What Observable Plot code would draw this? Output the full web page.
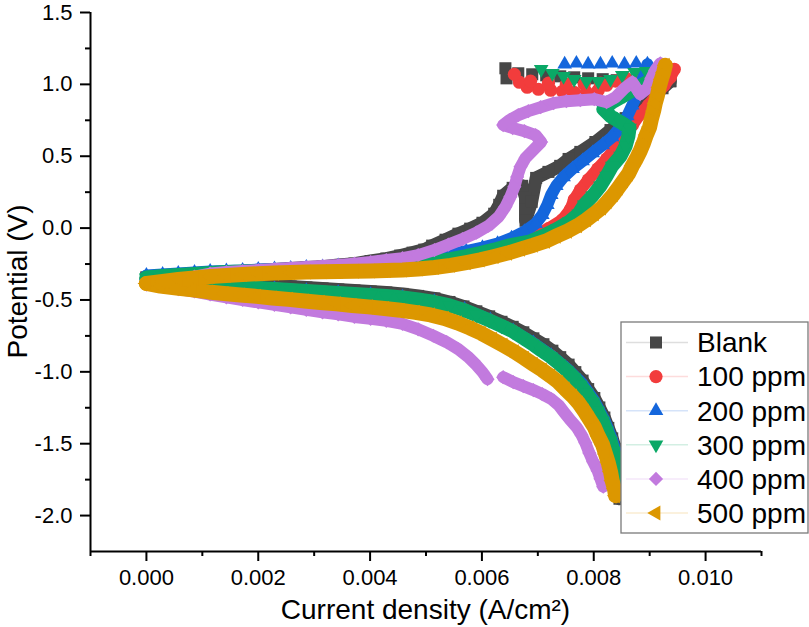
<!DOCTYPE html>
<html><head><meta charset="utf-8">
<script src="https://cdn.jsdelivr.net/npm/d3@7"></script>
<script src="https://cdn.jsdelivr.net/npm/@observablehq/plot@0.6"></script>
<style>
html,body{margin:0;padding:0;background:#fff;}
#chart{position:relative;width:809px;height:627px;}
</style></head><body><div id="chart"></div>
<script>
// ---- data: [current density (A/cm^2), potential (V)] ----
const seriesNames = ["Blank", "100 ppm", "200 ppm", "300 ppm", "400 ppm", "500 ppm"];

const blankCathodic = [[0.00000,-0.344],[0.00029,-0.351],[0.00057,-0.358],[0.00086,-0.365],[0.00114,-0.372],[0.00143,-0.378],[0.00172,-0.385],[0.00200,-0.392],[0.00229,-0.399],[0.00258,-0.406],[0.00286,-0.413],[0.00315,-0.420],[0.00343,-0.427],[0.00372,-0.434],[0.00401,-0.441],[0.00429,-0.448],[0.00458,-0.458],[0.00486,-0.472],[0.00515,-0.489],[0.00542,-0.514],[0.00567,-0.545],[0.00590,-0.579],[0.00613,-0.614],[0.00635,-0.652],[0.00655,-0.687],[0.00674,-0.725],[0.00692,-0.767],[0.00710,-0.808],[0.00726,-0.853],[0.00740,-0.898],[0.00755,-0.950],[0.00767,-1.002],[0.00780,-1.061],[0.00790,-1.120],[0.00801,-1.182],[0.00810,-1.248],[0.00819,-1.318],[0.00826,-1.390],[0.00833,-1.463],[0.00839,-1.536],[0.00844,-1.612],[0.00848,-1.688],[0.00849,-1.765],[0.00848,-1.834],[0.00846,-1.883]];
const blankAnodic = [[0.00000,-0.344],[0.00029,-0.337],[0.00057,-0.330],[0.00086,-0.323],[0.00114,-0.316],[0.00143,-0.309],[0.00172,-0.302],[0.00200,-0.295],[0.00229,-0.288],[0.00258,-0.281],[0.00286,-0.274],[0.00315,-0.268],[0.00343,-0.257],[0.00372,-0.247],[0.00401,-0.229],[0.00429,-0.212],[0.00454,-0.191],[0.00476,-0.171],[0.00497,-0.150],[0.00511,-0.122],[0.00535,-0.081],[0.00558,-0.039],[0.00579,-0.004],[0.00601,0.037],[0.00622,0.100],[0.00631,0.162],[0.00638,0.225],[0.00655,0.280],[0.00672,0.294],[0.00678,0.211],[0.00678,0.128],[0.00678,0.051],[0.00689,0.183],[0.00697,0.349],[0.00719,0.391],[0.00740,0.433],[0.00755,0.481],[0.00776,0.530],[0.00803,0.599],[0.00830,0.682],[0.00857,0.765],[0.00883,0.848],[0.00905,0.918],[0.00923,0.973],[0.00937,1.022]];
const blankTop = [[0.00937,1.022],[0.00916,1.015],[0.00891,1.015],[0.00866,1.022],[0.00841,1.029],[0.00816,1.036],[0.00790,1.042],[0.00765,1.049],[0.00740,1.056],[0.00715,1.063],[0.00690,1.070],[0.00665,1.077],[0.00644,1.042],[0.00642,1.112]];

const ppm100Cathodic = [[0.00000,-0.351],[0.00057,-0.375],[0.00114,-0.392],[0.00172,-0.406],[0.00229,-0.420],[0.00286,-0.434],[0.00343,-0.448],[0.00401,-0.462],[0.00458,-0.479],[0.00515,-0.510],[0.00567,-0.565],[0.00613,-0.638],[0.00655,-0.714],[0.00690,-0.800],[0.00723,-0.888],[0.00751,-0.981],[0.00778,-1.085],[0.00799,-1.203],[0.00817,-1.335],[0.00832,-1.474],[0.00843,-1.619],[0.00849,-1.772],[0.00851,-1.855]];
const ppm100Anodic = [[0.00000,-0.351],[0.00057,-0.333],[0.00114,-0.320],[0.00172,-0.309],[0.00229,-0.299],[0.00286,-0.288],[0.00343,-0.278],[0.00401,-0.268],[0.00458,-0.254],[0.00515,-0.233],[0.00572,-0.202],[0.00615,-0.163],[0.00651,-0.122],[0.00687,-0.067],[0.00719,-0.004],[0.00744,0.058],[0.00758,0.128],[0.00765,0.197],[0.00776,0.266],[0.00790,0.335],[0.00807,0.412],[0.00823,0.481],[0.00837,0.550],[0.00853,0.634],[0.00869,0.717],[0.00883,0.793],[0.00898,0.855],[0.00912,0.925],[0.00926,0.994],[0.00937,1.049],[0.00944,1.105]];
const ppm100Top = [[0.00923,1.084],[0.00901,1.070],[0.00880,1.056],[0.00858,1.042],[0.00839,1.022],[0.00823,0.994],[0.00808,0.959],[0.00787,0.945],[0.00765,0.945],[0.00744,0.952],[0.00723,0.959],[0.00701,0.966],[0.00681,0.980],[0.00667,1.015],[0.00658,1.070],[0.00687,1.022],[0.00719,1.008],[0.00751,1.001],[0.00783,1.001],[0.00812,1.008]];

const ppm200Cathodic = [[0.00000,-0.344],[0.00057,-0.377],[0.00114,-0.393],[0.00172,-0.407],[0.00229,-0.421],[0.00286,-0.435],[0.00343,-0.449],[0.00401,-0.463],[0.00458,-0.480],[0.00515,-0.512],[0.00569,-0.566],[0.00615,-0.640],[0.00656,-0.716],[0.00692,-0.800],[0.00724,-0.888],[0.00753,-0.981],[0.00780,-1.085],[0.00801,-1.203],[0.00819,-1.335],[0.00833,-1.474],[0.00844,-1.619],[0.00849,-1.772],[0.00851,-1.848]];
const ppm200Anodic = [[0.00000,-0.330],[0.00029,-0.323],[0.00057,-0.316],[0.00086,-0.309],[0.00114,-0.302],[0.00143,-0.299],[0.00172,-0.295],[0.00200,-0.288],[0.00229,-0.285],[0.00258,-0.281],[0.00286,-0.274],[0.00315,-0.271],[0.00343,-0.264],[0.00372,-0.261],[0.00401,-0.254],[0.00429,-0.247],[0.00458,-0.233],[0.00486,-0.216],[0.00515,-0.198],[0.00544,-0.181],[0.00572,-0.160],[0.00601,-0.136],[0.00628,-0.108],[0.00653,-0.070],[0.00676,-0.025],[0.00696,0.031],[0.00708,0.092],[0.00717,0.162],[0.00724,0.232],[0.00733,0.294],[0.00746,0.356],[0.00762,0.412],[0.00780,0.467],[0.00798,0.523],[0.00816,0.578],[0.00833,0.634],[0.00848,0.703],[0.00860,0.779],[0.00869,0.855],[0.00878,0.932],[0.00885,1.008],[0.00891,1.077],[0.00896,1.140]];
const ppm200Top = [[0.00876,1.146],[0.00855,1.140],[0.00833,1.146],[0.00812,1.140],[0.00790,1.140],[0.00769,1.146],[0.00748,1.140]];

const ppm300Cathodic = [[0.00000,-0.351],[0.00029,-0.367],[0.00057,-0.378],[0.00086,-0.389],[0.00114,-0.396],[0.00143,-0.403],[0.00172,-0.410],[0.00200,-0.417],[0.00229,-0.424],[0.00258,-0.430],[0.00286,-0.437],[0.00315,-0.444],[0.00343,-0.451],[0.00372,-0.458],[0.00401,-0.465],[0.00429,-0.472],[0.00458,-0.482],[0.00486,-0.496],[0.00515,-0.514],[0.00542,-0.538],[0.00567,-0.569],[0.00590,-0.604],[0.00613,-0.642],[0.00635,-0.680],[0.00655,-0.718],[0.00672,-0.760],[0.00690,-0.805],[0.00706,-0.850],[0.00723,-0.895],[0.00737,-0.940],[0.00751,-0.988],[0.00764,-1.037],[0.00776,-1.092],[0.00787,-1.148],[0.00798,-1.210],[0.00807,-1.273],[0.00816,-1.342],[0.00823,-1.411],[0.00830,-1.481],[0.00835,-1.550],[0.00841,-1.626],[0.00844,-1.703],[0.00848,-1.779],[0.00849,-1.848]];
const ppm300Anodic = [[0.00000,-0.344],[0.00029,-0.333],[0.00057,-0.327],[0.00086,-0.320],[0.00114,-0.313],[0.00143,-0.306],[0.00172,-0.302],[0.00200,-0.299],[0.00229,-0.295],[0.00258,-0.292],[0.00286,-0.288],[0.00315,-0.285],[0.00343,-0.281],[0.00372,-0.278],[0.00401,-0.274],[0.00429,-0.268],[0.00458,-0.261],[0.00486,-0.247],[0.00515,-0.233],[0.00544,-0.216],[0.00572,-0.195],[0.00597,-0.174],[0.00622,-0.150],[0.00647,-0.122],[0.00685,-0.094],[0.00710,-0.053],[0.00735,-0.004],[0.00756,0.044],[0.00773,0.100],[0.00783,0.162],[0.00798,0.225],[0.00812,0.294],[0.00823,0.363],[0.00833,0.433],[0.00848,0.502],[0.00857,0.571],[0.00862,0.640],[0.00864,0.696],[0.00848,0.737],[0.00830,0.779],[0.00817,0.828],[0.00833,0.876],[0.00855,0.925],[0.00876,0.973],[0.00898,1.022],[0.00916,1.070]];
const ppm300Top = [[0.00894,1.091],[0.00873,1.084],[0.00851,1.063],[0.00830,1.036],[0.00808,1.022],[0.00787,1.022],[0.00765,1.036],[0.00746,1.056],[0.00726,1.077],[0.00706,1.105]];

const ppm400CathodicA = [[0.00000,-0.392],[0.00029,-0.406],[0.00057,-0.424],[0.00086,-0.441],[0.00114,-0.462],[0.00143,-0.482],[0.00172,-0.500],[0.00200,-0.517],[0.00229,-0.534],[0.00258,-0.552],[0.00286,-0.569],[0.00315,-0.586],[0.00343,-0.600],[0.00372,-0.618],[0.00401,-0.631],[0.00429,-0.645],[0.00458,-0.666],[0.00486,-0.704],[0.00513,-0.749],[0.00537,-0.794],[0.00558,-0.843],[0.00576,-0.898],[0.00590,-0.953],[0.00601,-1.002],[0.00610,-1.051]];
const ppm400CathodicB = [[0.00638,-1.037],[0.00656,-1.072],[0.00674,-1.099],[0.00692,-1.127],[0.00708,-1.155],[0.00724,-1.189],[0.00737,-1.231],[0.00748,-1.286],[0.00758,-1.335],[0.00769,-1.383],[0.00778,-1.439],[0.00785,-1.494],[0.00792,-1.564],[0.00799,-1.626],[0.00807,-1.688],[0.00812,-1.744],[0.00817,-1.799]];
const ppm400Anodic = [[0.00000,-0.392],[0.00029,-0.378],[0.00057,-0.358],[0.00086,-0.337],[0.00114,-0.316],[0.00143,-0.306],[0.00172,-0.299],[0.00200,-0.292],[0.00229,-0.285],[0.00258,-0.278],[0.00286,-0.271],[0.00315,-0.264],[0.00343,-0.257],[0.00372,-0.247],[0.00401,-0.236],[0.00429,-0.222],[0.00458,-0.209],[0.00486,-0.188],[0.00515,-0.153],[0.00540,-0.115],[0.00565,-0.077],[0.00590,-0.032],[0.00612,0.017],[0.00630,0.079],[0.00642,0.148],[0.00651,0.218],[0.00658,0.287],[0.00663,0.356],[0.00669,0.426],[0.00678,0.488],[0.00692,0.543],[0.00706,0.599],[0.00696,0.647],[0.00676,0.675],[0.00655,0.696],[0.00638,0.717],[0.00649,0.751],[0.00665,0.786],[0.00683,0.814],[0.00705,0.841],[0.00728,0.869],[0.00751,0.883],[0.00776,0.890],[0.00801,0.897],[0.00823,0.876],[0.00839,0.911],[0.00855,0.973],[0.00869,1.015],[0.00883,0.932],[0.00896,0.973],[0.00903,1.042],[0.00910,1.098],[0.00919,1.146]];

const ppm500Cathodic = [[0.00000,-0.385],[0.00025,-0.403],[0.00054,-0.417],[0.00082,-0.430],[0.00111,-0.444],[0.00139,-0.455],[0.00168,-0.465],[0.00197,-0.475],[0.00225,-0.486],[0.00254,-0.496],[0.00283,-0.507],[0.00311,-0.517],[0.00340,-0.527],[0.00368,-0.538],[0.00397,-0.548],[0.00426,-0.559],[0.00454,-0.572],[0.00481,-0.586],[0.00508,-0.604],[0.00533,-0.628],[0.00556,-0.659],[0.00578,-0.694],[0.00599,-0.732],[0.00619,-0.774],[0.00638,-0.815],[0.00658,-0.860],[0.00676,-0.905],[0.00692,-0.947],[0.00708,-0.988],[0.00723,-1.030],[0.00737,-1.072],[0.00749,-1.120],[0.00762,-1.169],[0.00773,-1.217],[0.00783,-1.273],[0.00792,-1.328],[0.00801,-1.384],[0.00808,-1.446],[0.00816,-1.508],[0.00821,-1.571],[0.00826,-1.633],[0.00830,-1.695],[0.00833,-1.758],[0.00837,-1.813],[0.00839,-1.862]];
const ppm500Anodic = [[0.00000,-0.385],[0.00029,-0.372],[0.00057,-0.358],[0.00086,-0.347],[0.00114,-0.337],[0.00143,-0.330],[0.00172,-0.323],[0.00200,-0.317],[0.00229,-0.313],[0.00258,-0.309],[0.00286,-0.306],[0.00315,-0.304],[0.00343,-0.302],[0.00372,-0.300],[0.00401,-0.298],[0.00429,-0.295],[0.00458,-0.291],[0.00486,-0.284],[0.00515,-0.274],[0.00544,-0.259],[0.00572,-0.240],[0.00597,-0.221],[0.00622,-0.198],[0.00646,-0.174],[0.00669,-0.146],[0.00692,-0.119],[0.00714,-0.091],[0.00733,-0.056],[0.00753,-0.021],[0.00771,0.017],[0.00787,0.058],[0.00801,0.100],[0.00814,0.141],[0.00824,0.183],[0.00835,0.232],[0.00844,0.280],[0.00853,0.329],[0.00862,0.377],[0.00869,0.433],[0.00876,0.481],[0.00883,0.536],[0.00889,0.592],[0.00894,0.647],[0.00900,0.703],[0.00903,0.758],[0.00907,0.814],[0.00910,0.869],[0.00914,0.925],[0.00917,0.980],[0.00921,1.036],[0.00925,1.084],[0.00928,1.133]];

// ---- axes ----
const xDomain = [-0.001, 0.011];
const yDomain = [-2.25, 1.5];
const xTicks = [0, 0.002, 0.004, 0.006, 0.008, 0.010];
const xMinorTicks = [-0.001, 0.001, 0.003, 0.005, 0.007, 0.009, 0.011];
const yTicks = [-2.0, -1.5, -1.0, -0.5, 0.0, 0.5, 1.0, 1.5];
const yMinorTicks = [-1.75, -1.25, -0.75, -0.25, 0.25, 0.75, 1.25];
const xLabel = "Current density (A/cm²)";
const yLabel = "Potential (V)";

// ---- styles ----
const styles = [
  {color: "#474747", symbol: "square",    d3sym: d3.symbolSquare,    r: 6.8, rotate: 0,   lw: 13},
  {color: "#f23c3c", symbol: "circle",    d3sym: d3.symbolCircle,    r: 6.6, rotate: 0,   lw: 12},
  {color: "#1466dc", symbol: "triangle2", d3sym: d3.symbolTriangle2, r: 7.0, rotate: 0,   lw: 12},
  {color: "#0aa866", symbol: "triangle2", d3sym: d3.symbolTriangle2, r: 7.0, rotate: 180, lw: 14},
  {color: "#c27ade", symbol: "diamond2",  d3sym: d3.symbolDiamond2,  r: 6.4, rotate: 0,   lw: 12},
  {color: "#dc9700", symbol: "triangle2", d3sym: d3.symbolTriangle2, r: 7.2, rotate: -90, lw: 15}
];

const branchList = [
  {s: 0, pts: blankCathodic, line: true}, {s: 0, pts: blankAnodic, line: true}, {s: 0, pts: blankTop, line: false},
  {s: 1, pts: ppm100Cathodic, line: true}, {s: 1, pts: ppm100Anodic, line: true}, {s: 1, pts: ppm100Top, line: false},
  {s: 2, pts: ppm200Cathodic, line: true}, {s: 2, pts: ppm200Anodic, line: true}, {s: 2, pts: ppm200Top, line: false},
  {s: 3, pts: ppm300Cathodic, line: true}, {s: 3, pts: ppm300Anodic, line: true}, {s: 3, pts: ppm300Top, line: false},
  {s: 4, pts: ppm400CathodicA, line: true}, {s: 4, pts: ppm400CathodicB, line: true}, {s: 4, pts: ppm400Anodic, line: true},
  {s: 5, pts: ppm500Cathodic, line: true}, {s: 5, pts: ppm500Anodic, line: true}
];
const rows = branchList.flatMap((b, bi) => b.pts.map(([I, V]) => ({I, V, s: b.s, b: bi, line: b.line})));

const marks = [];
seriesNames.forEach((name, k) => {
  const st = styles[k];
  marks.push(Plot.line(rows.filter(d => d.s === k && d.line), {
    x: "I", y: "V", z: "b", stroke: st.color, strokeWidth: st.lw,
    strokeLinejoin: "round", strokeLinecap: "round"
  }));
  marks.push(Plot.dot(rows.filter(d => d.s === k), {
    x: "I", y: "V", symbol: st.symbol, r: st.r, fill: st.color, stroke: "none", rotate: st.rotate
  }));
});

marks.push(
  Plot.ruleX([xDomain[0]], {stroke: "#000", strokeWidth: 2}),
  Plot.ruleY([yDomain[0]], {stroke: "#000", strokeWidth: 2}),
  Plot.axisX(xTicks, {anchor: "bottom", tickSize: 10, tickPadding: 8, tickFormat: d => d.toFixed(3), fontSize: 22, strokeWidth: 2, label: null}),
  Plot.axisX(xMinorTicks, {anchor: "bottom", tickSize: 5, tickFormat: () => "", strokeWidth: 2, label: null}),
  Plot.axisY(yTicks, {anchor: "left", tickSize: 10, tickPadding: 8, tickFormat: d => d.toFixed(1), fontSize: 22, strokeWidth: 2, label: null}),
  Plot.axisY(yMinorTicks, {anchor: "left", tickSize: 5, tickFormat: () => "", strokeWidth: 2, label: null})
);

const plot = Plot.plot({
  width: 809, height: 627,
  marginLeft: 90, marginRight: 48, marginTop: 12, marginBottom: 76,
  x: {domain: xDomain},
  y: {domain: yDomain},
  style: {fontFamily: "'Liberation Sans', Arial, Helvetica, sans-serif", fontSize: "22px", color: "#000", background: "#fff", overflow: "visible"},
  marks
});
document.getElementById("chart").appendChild(plot);

// ---- axis titles & legend ----
const svg = d3.select(plot);
const xr = plot.scale("x").range, yr = plot.scale("y").range;
const ff = "'Liberation Sans', Arial, Helvetica, sans-serif";
svg.append("text").attr("x", (xr[0] + xr[1]) / 2).attr("y", 619)
  .attr("text-anchor", "middle").attr("font-family", ff).attr("font-size", 28).attr("fill", "#000").text(xLabel);
svg.append("text").attr("transform", `translate(27,${(yr[0] + yr[1]) / 2}) rotate(-90)`)
  .attr("text-anchor", "middle").attr("font-family", ff).attr("font-size", 28).attr("fill", "#000").text(yLabel);

const lg = svg.append("g");
lg.append("rect").attr("x", 621).attr("y", 322).attr("width", 187).attr("height", 211)
  .attr("fill", "#fff").attr("stroke", "#7a7a7a").attr("stroke-width", 1.3);
seriesNames.forEach((name, i) => {
  const st = styles[i];
  const cy = 342.5 + i * 34.1;
  lg.append("line").attr("x1", 626).attr("x2", 688).attr("y1", cy).attr("y2", cy)
    .attr("stroke", st.color).attr("stroke-opacity", 0.18).attr("stroke-width", 1.5);
  lg.append("path").attr("d", d3.symbol().type(st.d3sym).size(Math.PI * st.r * st.r)())
    .attr("transform", `translate(656,${cy}) rotate(${st.rotate})`).attr("fill", st.color);
  lg.append("text").attr("x", 697).attr("y", cy).attr("dy", "0.35em").attr("text-anchor", "start")
    .attr("font-family", ff).attr("font-size", 28).attr("fill", "#000").text(name);
});
</script>
</body></html>
